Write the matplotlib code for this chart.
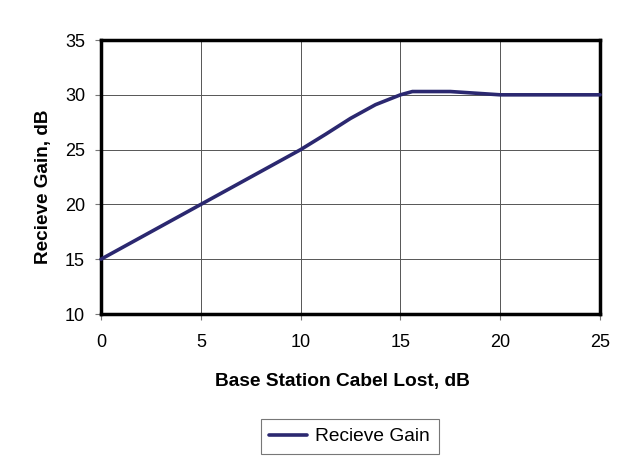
import matplotlib
matplotlib.use("Agg")
import matplotlib.pyplot as plt

cable_loss = [0, 5, 10, 11.25, 12.5, 13.75, 15, 15.6, 17.5, 20, 25]
gain = [15, 20, 25, 26.4, 27.85, 29.1, 30.0, 30.3, 30.3, 30.0, 30.0]
x_ticks = [0, 5, 10, 15, 20, 25]
y_ticks = [10, 15, 20, 25, 30, 35]

plt.rcParams['font.family'] = ['Liberation Sans', 'DejaVu Sans']
fig = plt.figure(figsize=(6.37, 4.67), dpi=100)
ax = fig.add_axes([0.1586, 0.3276, 0.7834, 0.5867])
line, = ax.plot(cable_loss, gain, color='#2B2870', lw=2.6, label='Recieve Gain',
                solid_joinstyle='round', solid_capstyle='round', clip_on=False, zorder=3)
ax.set_xlim(0, 25)
ax.set_ylim(10, 35)
ax.set_xticks(x_ticks)
ax.set_yticks(y_ticks)
ax.grid(True, color='#555555', lw=0.7)
for s in ax.spines.values():
    s.set_linewidth(2.5)
    s.set_color('black')
ax.tick_params(axis='both', labelsize=13, length=4.5, width=0.8, direction='out', color='#777777')
ax.tick_params(axis='x', pad=10)
ax.tick_params(axis='y', pad=7)
ax.set_xlabel('Base Station Cabel Lost, dB', fontsize=13.8, fontweight='bold', va='center')
ax.set_ylabel('Recieve Gain, dB', fontsize=13.6, fontweight='bold', va='center')
ax.xaxis.set_label_coords(0.483, -0.248)
ax.yaxis.set_label_coords(-0.116, 0.4635)
leg = fig.legend(handles=[line], loc='center', bbox_to_anchor=(349.5/637, 1 - 436.5/467),
                 fontsize=13.8, frameon=True, fancybox=False, edgecolor='#555555',
                 handlelength=2.0, handletextpad=0.4, borderpad=0.45, borderaxespad=0)
leg.get_frame().set_linewidth(0.8)
fig.savefig('out.png', dpi=100)
